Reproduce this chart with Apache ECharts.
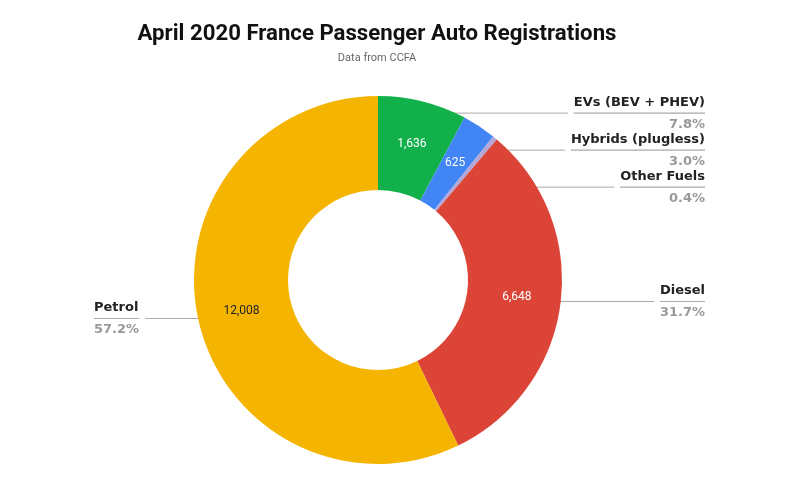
<!DOCTYPE html>
<html><head><meta charset="utf-8">
<script src="https://cdn.jsdelivr.net/npm/echarts@6/dist/echarts.min.js"></script>
<style>html,body{margin:0;padding:0;background:#fff}#c{width:799px;height:480px}</style>
</head><body><div id="c"></div>
<script>
const categories = ['EVs (BEV + PHEV)', 'Hybrids (plugless)', 'Other Fuels', 'Diesel', 'Petrol'];
const values = [1636, 625, 84, 6648, 12008];
const colors = ['#12b04b', '#4285f4', '#b4a7d6', '#db4437', '#f4b400'];
const insideLabelColors = ['#ffffff', '#ffffff', '#ffffff', '#ffffff', '#222222'];
const showInside = [true, true, false, true, true];

const total = values.reduce((a, b) => a + b, 0);
const data = categories.map((n, i) => ({ name: n, value: values[i], itemStyle: { color: colors[i] },
  label: { show: showInside[i], color: insideLabelColors[i] } }));
const dataOuter = categories.map((n, i) => ({ name: n, value: values[i] }));

const chart = echarts.init(document.getElementById('c'));
chart.setOption({
  animation: false,
  title: {
    text: 'April 2020 France Passenger Auto Registrations',
    subtext: 'Data from CCFA',
    left: 372, textAlign: 'center', top: 18, itemGap: 8,
    textStyle: { fontFamily: 'Roboto', fontWeight: 'bold', fontSize: 22.2, color: '#111' },
    subtextStyle: { fontFamily: 'Roboto', fontSize: 11, color: '#666' }
  },
  series: [
    {
      type: 'pie', center: [378, 280], radius: [90, 184], startAngle: 90, clockwise: true,
      data: data,
      label: { position: 'inside', fontFamily: 'Roboto', fontSize: 12,
        formatter: p => p.value.toLocaleString('en-US') },
      labelLine: { show: false }, silent: true
    },
    {
      type: 'pie', center: [378, 280], radius: [90, 170], startAngle: 90, clockwise: true,
      data: dataOuter,
      itemStyle: { color: 'rgba(0,0,0,0)' },
      label: {
        position: 'outside', alignTo: 'edge', edgeDistance: 94,
        formatter: p => '{n|' + p.name + '}\n{hr|}\n{p|' + (p.value / total * 100).toFixed(1) + '%}',
        rich: {
          n: { fontFamily: 'DejaVu Sans', fontWeight: 'bold', fontSize: 13, color: '#222', lineHeight: 22 },
          hr: { width: '100%', height: 0, borderColor: '#aaa', borderWidth: 0.8 },
          p: { fontFamily: 'DejaVu Sans', fontWeight: 'bold', fontSize: 13, color: '#999', lineHeight: 22 }
        }
      },
      labelLine: { show: true, length: 2, length2: 10, lineStyle: { color: '#aaa', width: 1 } },
      silent: true
    }
  ]
});
</script></body></html>
